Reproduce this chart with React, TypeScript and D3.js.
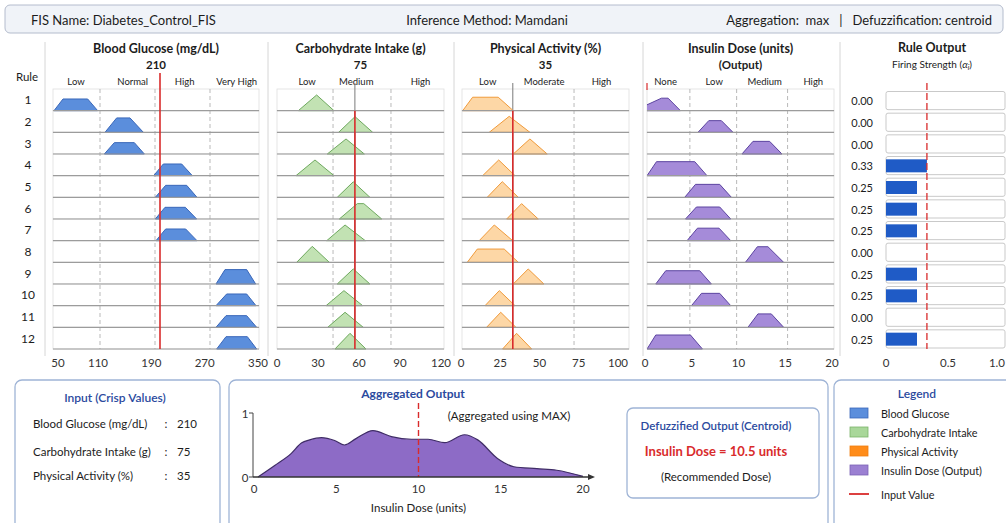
import React from 'react'
import * as d3 from 'd3'

// ---- data ----
const rules = [1, 2, 3, 4, 5, 6, 7, 8, 9, 10, 11, 12]

// membership shapes per rule: [a, b, c, d] (triangle when b == c), null = not used
const glucoseMf = [
  [44, 57.5, 94.5, 109.5], [120.5, 138, 158, 178], [119.5, 134.5, 164.5, 179.5],
  [193.5, 208, 235.5, 251.5], [196, 211.5, 243, 258.5], [196, 210.5, 241, 258],
  [197, 211.5, 241.5, 258.5], null, [287, 300.5, 333, 346.5],
  [287, 303, 333, 347], [287, 302, 333, 348], [288, 302, 334, 348],
]
const glucoseMu = [0.73, 0.9, 0.71, 0.73, 0.75, 0.73, 0.73, 0, 0.9, 0.73, 0.73, 0.77]

const carbMf = [
  [15.6, 29, 29, 41.7], [45.1, 57.1, 57.1, 70], [36.8, 50.5, 50.5, 63.9],
  [13.9, 27.8, 27.8, 41.7], [44.1, 55.8, 55.8, 68], [45.6, 58.8, 63.5, 76.6],
  [36.4, 49.8, 49.8, 64.6], [14.4, 25.8, 25.8, 38.3], [44.1, 55.8, 55.8, 68],
  [35.9, 49, 49, 62.7], [37.1, 49.8, 49.8, 63.1], [42.4, 53.4, 53.4, 65.1],
]
const carbMu = [0.98, 0.98, 0.94, 0.98, 0.97, 0.96, 0.98, 1, 0.94, 0.94, 0.94, 0.98]

const activityMf = [
  [1.1, 7.4, 23.7, 33.3], [18, 30.7, 30.7, 43.9], [33.3, 43.9, 43.9, 54.9],
  [13.8, 24, 24, 34.4], [16.7, 26.3, 26.3, 36.5], [29.1, 38.6, 38.6, 49.2],
  [11.6, 21.2, 21.2, 32.9], [4, 10.4, 27.5, 36.5], [33.3, 42.8, 42.8, 52.8],
  [15.3, 24.4, 24.4, 34.4], [16.3, 25.3, 25.3, 35], [26.5, 35.4, 35.4, 45],
]
const activityMu = [0.84, 1, 0.94, 0.98, 0.98, 0.96, 0.98, 0.83, 0.94, 0.94, 0.94, 0.98]

const insulinMf = [
  [-1.15, 1.76, 2.47, 3.79], [5.67, 6.82, 8.17, 9.41], [10.37, 11.55, 13.33, 14.65],
  [0.22, 1.23, 5.32, 6.63], [4.25, 5.4, 7.99, 9.24], [4.33, 5.5, 7.99, 9.17],
  [4.5, 5.61, 7.92, 9.17], [10.74, 12.02, 13.15, 14.83], [1.15, 2.22, 5.85, 7.1],
  [4.97, 6.04, 7.99, 9.17], [11.01, 12.08, 13.51, 14.83], [0.22, 1.15, 4.86, 6.14],
]
const insulinMu = [0.78, 0.73, 0.79, 0.875, 0.81, 0.75, 0.78, 0.975, 0.83, 0.77, 0.84, 0.875]

const glucoseTicks = [50, 110, 190, 270, 350]
const carbTicks = [0, 30, 60, 90, 120]
const activityTicks = [0, 25, 50, 75, 100]
const insulinTicks = [0, 5, 10, 15, 20]

const glucoseSets = ['Low', 'Normal', 'High', 'Very High']
const glucoseSetAt = [77, 162, 240, 318]
const glucoseBounds = [113, 195.5, 278]
const carbSets = ['Low', 'Medium', 'High']
const carbSetAt = [22, 58, 105]
const carbBounds = [41, 83.4]
const activitySets = ['Low', 'Moderate', 'High']
const activitySetAt = [17, 53, 89.5]
const activityBounds = [72]
const insulinSets = ['None', 'Low', 'Medium', 'High']
const insulinSetAt = [2.2, 7.4, 12.8, 18]
const insulinBounds = [4.8, 9.8, 15.25]

const inputNames = ['Blood Glucose (mg/dL)', 'Carbohydrate Intake (g)', 'Physical Activity (%)']
const inputValues = [210, 75, 35]
// where the red input lines are drawn in the picture (axis units)
const inputLineAt = [203, 57, 33]

const firing = [0, 0, 0, 0.33, 0.25, 0.25, 0.25, 0, 0.25, 0.25, 0, 0.25]
const firingTicks = [0, 0.5, 1.0]

const aggX = [0.24, 1.26, 2.27, 2.88, 3.38, 4.1, 4.9, 5.5, 6.2, 7.23, 8.35, 9.57, 10.58, 11.59, 12.8, 13.6, 14.8, 15.8, 17.2, 18.4, 20]
const aggMu = [0, 0.18, 0.37, 0.53, 0.58, 0.615, 0.57, 0.5, 0.6, 0.726, 0.63, 0.59, 0.59, 0.536, 0.66, 0.58, 0.29, 0.16, 0.13, 0.105, 0.01]
const aggTicks = [0, 5, 10, 15, 20]
const centroidLine = 10
const centroid = 10.5

const legendItems = ['Blood Glucose', 'Carbohydrate Intake', 'Physical Activity', 'Insulin Dose (Output)', 'Input Value']

// ---- layout ----
const W = 1006
const H = 523
const FONT = 'Lato, "Noto Sans", sans-serif'
const TXT = '#1c1c1c'
const BLUE_T = '#2b4a9e'
const RED = '#d92b2b'

const rowY = d3.scaleBand<number>().domain(rules).range([89, 349])
const muH = d3.scaleLinear().domain([0, 1]).range([0, 16])

const columns = [
  { title: 'Blood Glucose (mg/dL)', sub: '210', domain: [50, 350], range: [58, 258], box: [53, 259], ticks: glucoseTicks, sets: glucoseSets, setAt: glucoseSetAt, bounds: glucoseBounds, mf: glucoseMf, mu: glucoseMu, fill: '#5b8edc', stroke: '#3a67b9', line: 'full', lineAt: inputLineAt[0] },
  { title: 'Carbohydrate Intake (g)', sub: '75', domain: [0, 120], range: [277, 441], box: [277, 444], ticks: carbTicks, sets: carbSets, setAt: carbSetAt, bounds: carbBounds, mf: carbMf, mu: carbMu, fill: '#c2e2b3', stroke: '#6ea95e', line: 'split', lineAt: inputLineAt[1] },
  { title: 'Physical Activity (%)', sub: '35', domain: [0, 100], range: [461, 618], box: [462, 629], ticks: activityTicks, sets: activitySets, setAt: activitySetAt, bounds: activityBounds, mf: activityMf, mu: activityMu, fill: '#fdd7a6', stroke: '#f09a3a', line: 'split', lineAt: inputLineAt[2] },
  { title: 'Insulin Dose (units)', sub: '(Output)', domain: [0, 20], range: [645, 832], box: [647, 834], ticks: insulinTicks, sets: insulinSets, setAt: insulinSetAt, bounds: insulinBounds, mf: insulinMf, mu: insulinMu, fill: '#a58bd9', stroke: '#5c44a0', line: 'tick', lineAt: 0 },
]

const separators = [45, 268, 454, 643, 840]

function MfColumn({ col, idx }: any) {
  const x = d3.scaleLinear().domain(col.domain).range(col.range)
  const [b0, b1] = col.box
  const bw = rowY.bandwidth()
  const top = rowY.range()[0]
  const bottom = rowY.range()[1]
  const cx = (b0 + b1) / 2
  const shape = d3.line<[number, number]>()
  const lx = x(col.lineAt)
  return (
    <g>
      <clipPath id={`mfclip${idx}`}>
        <rect x={b0} y={top - 4} width={b1 - b0} height={bottom - top + 6} />
      </clipPath>
      <text x={cx} y={48} textAnchor="middle" dominantBaseline="central" fontSize={12.5} fontWeight={700} fill={TXT}>{col.title}</text>
      <text x={cx} y={64} textAnchor="middle" dominantBaseline="central" fontSize={11.5} fontWeight={700} fill={TXT}>{col.sub}</text>
      {col.sets.map((s: string, k: number) => (
        <text key={s} x={x(col.setAt[k])} y={81} textAnchor="middle" dominantBaseline="central" fontSize={9.5} fill={TXT}>{s}</text>
      ))}
      {rules.map(r => (
        <rect key={r} x={b0} y={rowY(r)} width={b1 - b0} height={bw} fill="#fff" stroke="#dedede" strokeWidth={0.8} />
      ))}
      {col.bounds.map((b: number) => (
        <line key={b} x1={x(b)} x2={x(b)} y1={top} y2={bottom} stroke="#b9b9b9" strokeDasharray="4,3" strokeWidth={1} />
      ))}
      {col.line === 'split' && (
        <line x1={lx} x2={lx} y1={83} y2={bottom} stroke="#7a7a7a" strokeWidth={1} />
      )}
      <g clipPath={`url(#mfclip${idx})`}>
        {rules.map((r, i) => {
          const m = col.mf[i]
          if (!m) return null
          const base = (rowY(r) as number) + bw
          const h = muH(col.mu[i])
          const d = shape([[x(m[0]), base], [x(m[1]), base - h], [x(m[2]), base - h], [x(m[3]), base]]) + 'Z'
          return <path key={r} d={d} fill={col.fill} stroke={col.stroke} strokeWidth={1} strokeLinejoin="round" />
        })}
      </g>
      {rules.map(r => (
        <line key={r} x1={b0} x2={b1} y1={(rowY(r) as number) + bw} y2={(rowY(r) as number) + bw} stroke="#9c9c9c" strokeWidth={1.2} />
      ))}
      {col.ticks.map((t: number) => (
        <text key={t} x={x(t)} y={362} textAnchor="middle" dominantBaseline="central" fontSize={11.5} fill="#333">{t}</text>
      ))}
      {col.line === 'full' && <line x1={lx} x2={lx} y1={73} y2={bottom} stroke={RED} strokeWidth={1.6} />}
      {col.line === 'split' && <line x1={lx} x2={lx} y1={top + bw} y2={bottom} stroke={RED} strokeWidth={1.6} />}
      {col.line === 'tick' && <line x1={x(col.lineAt) + 2} x2={x(col.lineAt) + 2} y1={83} y2={90} stroke={RED} strokeWidth={1.2} />}
    </g>
  )
}

function RuleOutput() {
  const x = d3.scaleLinear().domain([0, 1]).range([886, 1010])
  const bw = rowY.bandwidth()
  const bottom = rowY.range()[1]
  const maxA = d3.max(firing) as number
  return (
    <g>
      <text x={932} y={47} textAnchor="middle" dominantBaseline="central" fontSize={12.5} fontWeight={700} fill={TXT}>Rule Output</text>
      <text x={932} y={64} textAnchor="middle" dominantBaseline="central" fontSize={10} fill={TXT}>
        Firing Strength (<tspan fontStyle="italic">α</tspan><tspan fontStyle="italic" fontSize={7} dy={3}>i</tspan><tspan dy={-3}>)</tspan>
      </text>
      {rules.map((r, i) => {
        const y0 = rowY(r) as number
        const cy = y0 + bw / 2 + 1
        return (
          <g key={r}>
            <text x={873} y={cy} textAnchor="end" dominantBaseline="central" fontSize={11} fill={TXT}>{firing[i].toFixed(2)}</text>
            <rect x={x(0)} y={y0 + 2.5} width={1005 - x(0)} height={bw - 3.5} rx={2} fill="#fff" stroke="#c9c9c9" strokeWidth={1} />
            {firing[i] > 0 && (
              <rect x={x(0)} y={cy - 6.5} width={x(firing[i]) - x(0)} height={13} fill="#1f5bc6" />
            )}
          </g>
        )
      })}
      <line x1={x(maxA)} x2={x(maxA)} y1={83} y2={bottom} stroke={RED} strokeWidth={1.3} strokeDasharray="7,3" />
      {firingTicks.map(t => {
        const tx = x(t)
        const edge = tx + 9 > W
        return (
          <text key={t} x={edge ? W - 1 : tx} y={362} textAnchor={edge ? 'end' : 'middle'} dominantBaseline="central" fontSize={11.5} fill="#333">{t === 0 ? '0' : t.toFixed(1)}</text>
        )
      })}
    </g>
  )
}

function Aggregated() {
  const x = d3.scaleLinear().domain([0, 20]).range([254, 583])
  const y = d3.scaleLinear().domain([0, 1]).range([477, 413])
  const pts = aggX.map((v, i) => [v, aggMu[i]] as [number, number])
  const area = d3.area<[number, number]>().x(d => x(d[0])).y0(y(0)).y1(d => y(d[1])).curve(d3.curveMonotoneX)
  const top = d3.line<[number, number]>().x(d => x(d[0])).y(d => y(d[1])).curve(d3.curveMonotoneX)
  const axEnd = x(20) + 12
  return (
    <g>
      <rect x={229} y={380} width={599} height={150} rx={7} fill="#fff" stroke="#9fb4d6" strokeWidth={1.3} />
      <text x={413} y={393} textAnchor="middle" dominantBaseline="central" fontSize={12} fontWeight={700} fill={BLUE_T}>Aggregated Output</text>
      <text x={509} y={415} textAnchor="middle" dominantBaseline="central" fontSize={11.5} fill={TXT}>(Aggregated using MAX)</text>
      <path d={area(pts) as string} fill="#8d6bc6" />
      <path d={top(pts) as string} fill="none" stroke="#3f2c66" strokeWidth={1.2} />
      <line x1={x(centroidLine)} x2={x(centroidLine)} y1={403} y2={y(0)} stroke={RED} strokeWidth={1.4} strokeDasharray="6,3" />
      <line x1={x(0) - 1} x2={x(0) - 1} y1={y(1)} y2={y(0)} stroke="#444" strokeWidth={1} />
      <line x1={x(0) - 5} x2={x(0) - 1} y1={y(1)} y2={y(1)} stroke="#444" strokeWidth={1} />
      <line x1={x(0) - 5} x2={x(0) - 1} y1={y(0)} y2={y(0)} stroke="#444" strokeWidth={1} />
      <line x1={x(0) - 1} x2={axEnd - 5} y1={y(0)} y2={y(0)} stroke="#333" strokeWidth={1.3} />
      <path d={`M${axEnd},${y(0)} L${axEnd - 7},${y(0) - 3} L${axEnd - 7},${y(0) + 3} Z`} fill="#333" />
      <text x={x(0) - 9} y={y(1)} textAnchor="middle" dominantBaseline="central" fontSize={11.5} fill="#333">1</text>
      <text x={x(0) - 9} y={y(0)} textAnchor="middle" dominantBaseline="central" fontSize={11.5} fill="#333">0</text>
      {aggTicks.map(t => (
        <text key={t} x={x(t)} y={488} textAnchor="middle" dominantBaseline="central" fontSize={11.5} fill="#333">{t}</text>
      ))}
      <text x={x(10)} y={507} textAnchor="middle" dominantBaseline="central" fontSize={11.5} fill={TXT}>Insulin Dose (units)</text>

      <rect x={627} y={408} width={192} height={90} rx={6} fill="#fff" stroke="#9fb4d6" strokeWidth={1.3} />
      <text x={716} y={425} textAnchor="middle" dominantBaseline="central" fontSize={11.5} fontWeight={600} fill={BLUE_T}>Defuzzified Output (Centroid)</text>
      <text x={716} y={451} textAnchor="middle" dominantBaseline="central" fontSize={13} fontWeight={700} fill={RED}>Insulin Dose = {centroid} units</text>
      <text x={716} y={476} textAnchor="middle" dominantBaseline="central" fontSize={11.5} fill={TXT}>(Recommended Dose)</text>
    </g>
  )
}

function InputPanel() {
  const ys = [423, 451, 475]
  return (
    <g>
      <rect x={15} y={380} width={205} height={150} rx={7} fill="#fff" stroke="#9fb4d6" strokeWidth={1.3} />
      <text x={115} y={397} textAnchor="middle" dominantBaseline="central" fontSize={12} fontWeight={600} fill={BLUE_T}>Input (Crisp Values)</text>
      {inputNames.map((n, i) => (
        <g key={n}>
          <text x={33} y={ys[i]} dominantBaseline="central" fontSize={11.5} fill={TXT}>{n}</text>
          <text x={166} y={ys[i]} textAnchor="middle" dominantBaseline="central" fontSize={11.5} fill={TXT}>:</text>
          <text x={177} y={ys[i]} dominantBaseline="central" fontSize={11.5} fill={TXT}>{inputValues[i]}</text>
        </g>
      ))}
    </g>
  )
}

function Legend() {
  const swatch = [
    { fill: '#5b8edc', stroke: '#3a67b9' },
    { fill: '#a9d79a', stroke: '#7cb36a' },
    { fill: '#ff8c1a', stroke: '#f07e10' },
    { fill: '#9b80d2', stroke: '#7a62b5' },
  ]
  const ys = [413, 432, 451, 470, 494]
  return (
    <g>
      <rect x={834} y={380} width={190} height={150} rx={7} fill="#fff" stroke="#9fb4d6" strokeWidth={1.3} />
      <text x={917} y={393} textAnchor="middle" dominantBaseline="central" fontSize={12} fontWeight={600} fill={BLUE_T}>Legend</text>
      {legendItems.map((t, i) => (
        <g key={t}>
          {i < 4 ? (
            <rect x={850} y={ys[i] - 5} width={18} height={10} fill={swatch[i].fill} stroke={swatch[i].stroke} strokeWidth={0.8} />
          ) : (
            <line x1={849} x2={869} y1={ys[i]} y2={ys[i]} stroke={RED} strokeWidth={1.8} />
          )}
          <text x={881} y={ys[i]} dominantBaseline="central" fontSize={10.8} fill={TXT}>{t}</text>
        </g>
      ))}
    </g>
  )
}

export default function App() {
  return (
    <svg width={W} height={H} fontFamily={FONT} style={{ position: 'absolute', left: 0, top: 0, display: 'block', background: '#fff' }}>
      <rect x={5} y={5} width={998} height={28} rx={5} fill="#f0f3f8" stroke="#b4bccd" strokeWidth={1} />
      <text x={31} y={19.5} dominantBaseline="central" fontSize={13} fill={TXT}>FIS Name:  Diabetes_Control_FIS</text>
      <text x={487} y={19.5} textAnchor="middle" dominantBaseline="central" fontSize={13} fill={TXT}>Inference Method: Mamdani</text>
      <text x={992} y={19.5} textAnchor="end" dominantBaseline="central" fontSize={13} fill={TXT} style={{ whiteSpace: 'pre' }}>Aggregation:  max   |   Defuzzification: centroid</text>

      {separators.map(s => (
        <line key={s} x1={s} x2={s} y1={42} y2={356} stroke="#d6d6d6" strokeWidth={1} />
      ))}
      <text x={27} y={76} textAnchor="middle" dominantBaseline="central" fontSize={11.5} fill={TXT}>Rule</text>
      {rules.map(r => (
        <text key={r} x={28} y={(rowY(r) as number) + rowY.bandwidth() / 2} textAnchor="middle" dominantBaseline="central" fontSize={12} fill={TXT}>{r}</text>
      ))}
      {columns.map((c, i) => <MfColumn key={c.title} col={c} idx={i} />)}
      <RuleOutput />
      <InputPanel />
      <Aggregated />
      <Legend />
    </svg>
  )
}
